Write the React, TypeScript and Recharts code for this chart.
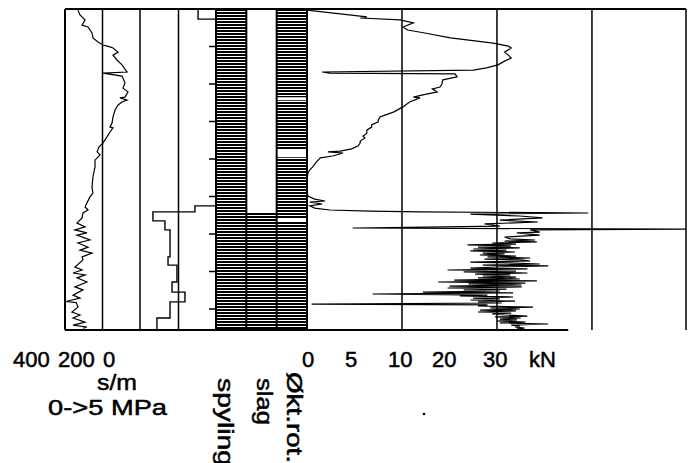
import { LineChart, Line, XAxis, YAxis, ReferenceLine, ReferenceArea } from 'recharts';

const DEPTH_MAX = 8.56;
const depthTicks = [1, 2, 3, 4, 5, 6, 7, 8];

// penetration time, s/m (0 at right, 400 at left)
const smDepth = [0.03, 0.16, 0.29, 0.43, 0.48, 0.64, 0.77, 0.88, 0.96, 1.01, 1.04, 1.15, 1.23, 1.36, 1.49, 1.68, 1.71, 1.79, 1.97, 2.11, 2.21, 2.35, 2.37, 2.43, 2.48, 2.56, 2.69, 2.88, 3.04, 3.15, 3.17, 3.28, 3.41, 3.57, 3.68, 3.81, 3.89, 4.03, 4.21, 4.48, 4.75, 4.91, 5.01, 5.17, 5.28, 5.36, 5.44, 5.57, 5.71, 5.81, 5.89, 5.97, 6.03, 6.16, 6.24, 6.35, 6.43, 6.51, 6.61, 6.69, 6.88, 6.96, 7.04, 7.09, 7.17, 7.28, 7.41, 7.49, 7.63, 7.71, 7.80, 7.83, 7.95, 8.08, 8.16, 8.24, 8.35, 8.43, 8.48, 8.51];
const smValue = [331, 320, 293, 309, 277, 256, 251, 224, 197, 160, 144, 117, 144, 123, 96, 69, 197, 96, 80, 91, 64, 80, 107, 69, 96, 117, 133, 144, 149, 160, 144, 160, 176, 197, 219, 229, 213, 240, 240, 251, 256, 251, 267, 283, 293, 277, 304, 309, 336, 293, 347, 283, 336, 267, 331, 277, 320, 256, 309, 304, 347, 309, 357, 293, 336, 283, 347, 304, 357, 320, 395, 340, 331, 363, 320, 357, 293, 357, 283, 304];

// flushing pressure, MPa (0 at right, 5 at left)
const mpaDepth = [0, 0.27, 0.27, 5.25, 5.25, 5.41, 5.41, 5.65, 5.65, 5.89, 5.89, 6.61, 6.61, 6.83, 6.83, 7.28, 7.28, 7.55, 7.55, 7.81, 7.81, 8.24, 8.24, 8.56];
const mpaValue = [1.23, 1.23, 0, 0, 1.43, 1.43, 4.16, 4.16, 3.38, 3.38, 3.05, 3.05, 3.18, 3.18, 2.6, 2.6, 2.92, 2.92, 2.08, 2.08, 3.05, 3.05, 3.9, 3.9];

// push force, kN
const kNDepth = [
    0.03, 0.13, 0.21, 0.24, 0.29, 0.37, 0.48, 0.56, 0.64, 0.77, 0.91, 0.99, 1.04, 1.15, 1.23, 1.31, 1.39, 1.49, 1.57, 1.63,
    1.68, 1.71, 1.73, 1.81, 1.89, 2.0, 2.08, 2.13, 2.21, 2.29, 2.35, 2.37, 2.48, 2.61, 2.75, 2.83, 2.88, 2.96, 3.01, 3.09,
    3.15, 3.23, 3.31, 3.39, 3.44, 3.52, 3.57, 3.65, 3.73, 3.79, 3.81, 3.84, 3.92, 3.97, 4.05, 4.11, 4.21, 4.29, 4.37, 4.56,
    4.83, 4.99, 5.07, 5.12, 5.15, 5.2, 5.25, 5.31, 5.36, 5.39, 5.41, 5.44, 5.47, 5.52, 5.57, 5.63, 5.68, 5.73, 5.79, 5.84,
    5.87, 5.89, 5.95, 5.97, 6.03, 6.08,
    6.13, 6.16, 6.19, 6.21, 6.24, 6.27, 6.29, 6.32, 6.35, 6.37, 6.4, 6.43, 6.45, 6.48, 6.51, 6.53, 6.56, 6.59, 6.61, 6.64,
    6.67, 6.69, 6.72, 6.75, 6.77, 6.8, 6.83, 6.85, 6.88, 6.91, 6.93, 6.96, 6.99, 7.01, 7.04, 7.07, 7.09, 7.12, 7.15, 7.17,
    7.2, 7.23, 7.25, 7.28, 7.31, 7.33, 7.36, 7.39, 7.41, 7.44, 7.47, 7.49, 7.52, 7.55, 7.57, 7.6, 7.63, 7.65, 7.68, 7.71,
    7.73, 7.76, 7.79, 7.81, 7.84, 7.87, 7.89, 7.92, 7.95, 7.97, 8.0, 8.03, 8.05, 8.08, 8.11, 8.13, 8.16, 8.19, 8.21, 8.24,
    8.27, 8.29, 8.32, 8.35, 8.37, 8.4, 8.43, 8.45, 8.48, 8.51, 8.53,
];
const kNValue = [
    0, 3.5, 6.3, 5.6, 9.8, 11.2, 10.1, 10.6, 12.4, 15.1, 19.6, 21.2, 21.5, 20.8, 21.2, 21.5, 20.8, 20.1, 18.9, 17.5,
    1.6, 2.4, 15.6, 15.8, 14.3, 14.2, 14.0, 13.2, 13.7, 12.2, 11.2, 11.9, 10.8, 10.1, 9.1, 8.2, 7.7, 7.5, 7.5, 6.8,
    6.8, 6.3, 6.3, 5.9, 6.1, 5.6, 5.6, 5.4, 4.7, 3.5, 2.2, 3.8, 2.7, 1.4, 1.1, 0.9, 0.6, 0.3, 0.1, 0,
    0, 0.1, 0.8, 1.9, 0.3, 1.6, 0.3, 0.8, 2.4, 6.6, 11.9, 29.6, 17.2, 22.4, 24.8, 20.3, 24.3, 18.7, 20.3, 4.8,
    39.9, 23.5, 24.5, 22.1, 24.5, 20.8,
    21.4, 24.0, 20.8, 24.2, 19.5, 22.0, 16.9, 21.5, 18.0, 22.4, 17.5, 21.0, 17.2, 21.9, 18.5, 20.8, 18.2, 22.0, 19.0, 23.5,
    18.7, 22.5, 23.5, 17.2, 21.0, 24.5, 18.5, 25.4, 20.0, 17.2, 23.2, 14.8, 22.0, 16.5, 23.2, 17.7, 21.4, 18.5, 22.0, 18.0,
    22.4, 15.5, 24.2, 13.8, 23.0, 17.0, 22.6, 15.0, 22.6, 14.8, 21.0, 16.5, 20.3, 12.2, 21.7, 6.9, 19.0, 16.1, 21.7, 17.5,
    20.3, 17.2, 21.9, 18.0, 20.5, 0.5, 19.0, 18.0, 23.8, 19.3, 22.4, 18.2, 22.0, 18.0, 21.5, 19.5, 20.8, 23.2, 19.8, 22.5,
    20.3, 22.1, 20.0, 23.0, 20.3, 25.4, 21.5, 22.4, 21.9, 22.9, 22.1,
];
const KN_MAX = 39.9;
const kNGrid = [10, 20, 30];

// on/off columns, depth intervals [from, to]
const spylingIntervals = [[0, 8.56]];
const slagIntervals = [[5.41, 8.56]];
const oktRotIntervals = [[0, 2.35], [2.43, 3.76], [3.95, 5.57], [5.68, 8.56]];

const smLabels = ['400', '200', '0'];
const unitLabels = ['s/m', '0->5 MPa'];
const columnLabels = ['spyling', 'slag', 'Økt.rot.'];
const kNLabels = ['0', '5', '10', '20', '30'];
const kNUnit = 'kN';

const toRows = (depths: number[], values: number[]) =>
    depths.map((depth, i) => ({ depth, value: values[i] }));

const INK = '#000';
const noMargin = { top: 0, right: 0, bottom: 0, left: 0 };

export default function App() {
    const smData = toRows(smDepth, smValue);
    const mpaData = toRows(mpaDepth, mpaValue);
    const kNData = toRows(kNDepth, kNValue);
    const columns = [spylingIntervals, slagIntervals, oktRotIntervals];
    // one row per column edge so the hatch chart has data for its axes
    const columnEdges = [0, 1, 2, 3].map((x) => ({ depth: 0, value: x }));

    return (
        <div style={{ position: 'absolute', left: 0, top: 0, width: 688, height: 463, background: '#fff', overflow: 'hidden' }}>
            <style>{'.recharts-surface{overflow:visible}'}</style>

            {/* s/m */}
            <div style={{ position: 'absolute', left: 65, top: 9 }}>
                <LineChart width={75} height={321} data={smData} layout="vertical" margin={noMargin}>
                    <XAxis type="number" domain={[0, 400]} reversed allowDataOverflow hide />
                    <YAxis type="number" dataKey="depth" domain={[0, DEPTH_MAX]} allowDataOverflow hide />
                    <ReferenceLine x={400} stroke={INK} strokeWidth={2} />
                    <ReferenceLine x={200} stroke={INK} strokeWidth={1.5} />
                    <ReferenceLine x={0} stroke={INK} strokeWidth={1.5} />
                    <ReferenceLine y={0} stroke={INK} strokeWidth={2} />
                    <ReferenceLine y={DEPTH_MAX} stroke={INK} strokeWidth={2} />
                    <Line dataKey="value" stroke={INK} strokeWidth={1.2} dot={false} isAnimationActive={false} />
                </LineChart>
            </div>

            {/* MPa */}
            <div style={{ position: 'absolute', left: 140, top: 9 }}>
                <LineChart width={77} height={321} data={mpaData} layout="vertical" margin={noMargin}>
                    <XAxis type="number" domain={[0, 5]} reversed allowDataOverflow hide />
                    <YAxis type="number" dataKey="depth" domain={[0, DEPTH_MAX]} allowDataOverflow hide />
                    <ReferenceLine x={2.5} stroke={INK} strokeWidth={1.5} />
                    <ReferenceLine y={0} stroke={INK} strokeWidth={2} />
                    <ReferenceLine y={DEPTH_MAX} stroke={INK} strokeWidth={2} />
                    <Line dataKey="value" stroke={INK} strokeWidth={1.4} dot={false} isAnimationActive={false} />
                </LineChart>
            </div>

            {/* spyling / slag / økt.rot. */}
            <div style={{ position: 'absolute', left: 208, top: 9 }}>
                <LineChart width={99} height={321} data={columnEdges} layout="vertical" margin={noMargin}>
                    <defs>
                        <pattern id="hatch" patternUnits="userSpaceOnUse" width={6} height={3}>
                            <rect x={0} y={0} width={6} height={2} fill={INK} />
                        </pattern>
                    </defs>
                    <XAxis type="number" domain={[0, 3]} allowDataOverflow hide />
                    <YAxis type="number" dataKey="depth" domain={[0, DEPTH_MAX]} allowDataOverflow width={8}
                        ticks={depthTicks} tick={() => <g />} tickSize={7} axisLine={false}
                        tickLine={{ stroke: INK, strokeWidth: 1.5 }} />
                    {columns.map((intervals, c) =>
                        intervals.map(([from, to], k) => (
                            <ReferenceArea key={`${c}-${k}`} x1={c} x2={c + 1} y1={from} y2={to}
                                fill="url(#hatch)" fillOpacity={1} stroke="none" ifOverflow="visible" />
                        ))
                    )}
                    {[0, 1, 2, 3].map((x) => (
                        <ReferenceLine key={x} x={x} stroke={INK} strokeWidth={2} ifOverflow="visible" />
                    ))}
                    <ReferenceLine y={0} stroke={INK} strokeWidth={2} ifOverflow="visible" />
                    <ReferenceLine y={DEPTH_MAX} stroke={INK} strokeWidth={2} ifOverflow="visible" />
                    <Line dataKey="value" stroke="none" dot={false} isAnimationActive={false} />
                </LineChart>
            </div>

            {/* kN */}
            <div style={{ position: 'absolute', left: 307, top: 9 }}>
                <LineChart width={379} height={321} data={kNData} layout="vertical" margin={noMargin}>
                    <XAxis type="number" domain={[0, KN_MAX]} allowDataOverflow hide />
                    <YAxis type="number" dataKey="depth" domain={[0, DEPTH_MAX]} allowDataOverflow hide />
                    {kNGrid.map((x) => (
                        <ReferenceLine key={x} x={x} stroke={INK} strokeWidth={1.5} />
                    ))}
                    <ReferenceLine x={KN_MAX} stroke={INK} strokeWidth={1.5} />
                    <ReferenceLine y={0} stroke={INK} strokeWidth={2} />
                    <ReferenceLine segment={[{ x: 0, y: DEPTH_MAX }, { x: 27.5, y: DEPTH_MAX }]} stroke={INK} strokeWidth={2} />
                    <Line dataKey="value" stroke={INK} strokeWidth={1.2} dot={false} isAnimationActive={false} />
                </LineChart>
            </div>

            {/* axis texts */}
            <svg width={688} height={463} style={{ position: 'absolute', left: 0, top: 0 }}
                fontFamily="'Liberation Sans', Arial, sans-serif" fontSize={22} fill={INK}
                stroke={INK} strokeWidth={0.5}>
                <text x={13} y={367}>{smLabels[0]}</text>
                <text x={58} y={367}>{smLabels[1]}</text>
                <text x={103} y={367}>{smLabels[2]}</text>
                <text x={97} y={390} textLength={40} lengthAdjust="spacingAndGlyphs">{unitLabels[0]}</text>
                <text x={48} y={415} textLength={119} lengthAdjust="spacingAndGlyphs">{unitLabels[1]}</text>

                <text transform="translate(218,378) rotate(90)" textLength={88} lengthAdjust="spacingAndGlyphs">{columnLabels[0]}</text>
                <text transform="translate(257,378) rotate(90)" textLength={47} lengthAdjust="spacingAndGlyphs">{columnLabels[1]}</text>
                <text transform="translate(287,372) rotate(90)" textLength={91} lengthAdjust="spacingAndGlyphs">{columnLabels[2]}</text>

                <text x={302} y={367}>{kNLabels[0]}</text>
                <text x={345} y={367}>{kNLabels[1]}</text>
                <text x={388} y={367}>{kNLabels[2]}</text>
                <text x={432} y={367}>{kNLabels[3]}</text>
                <text x={483} y={367}>{kNLabels[4]}</text>
                <text x={529} y={367}>{kNUnit}</text>
                <circle cx={424} cy={414} r={1.3} stroke="none" />
            </svg>
        </div>
    );
}
